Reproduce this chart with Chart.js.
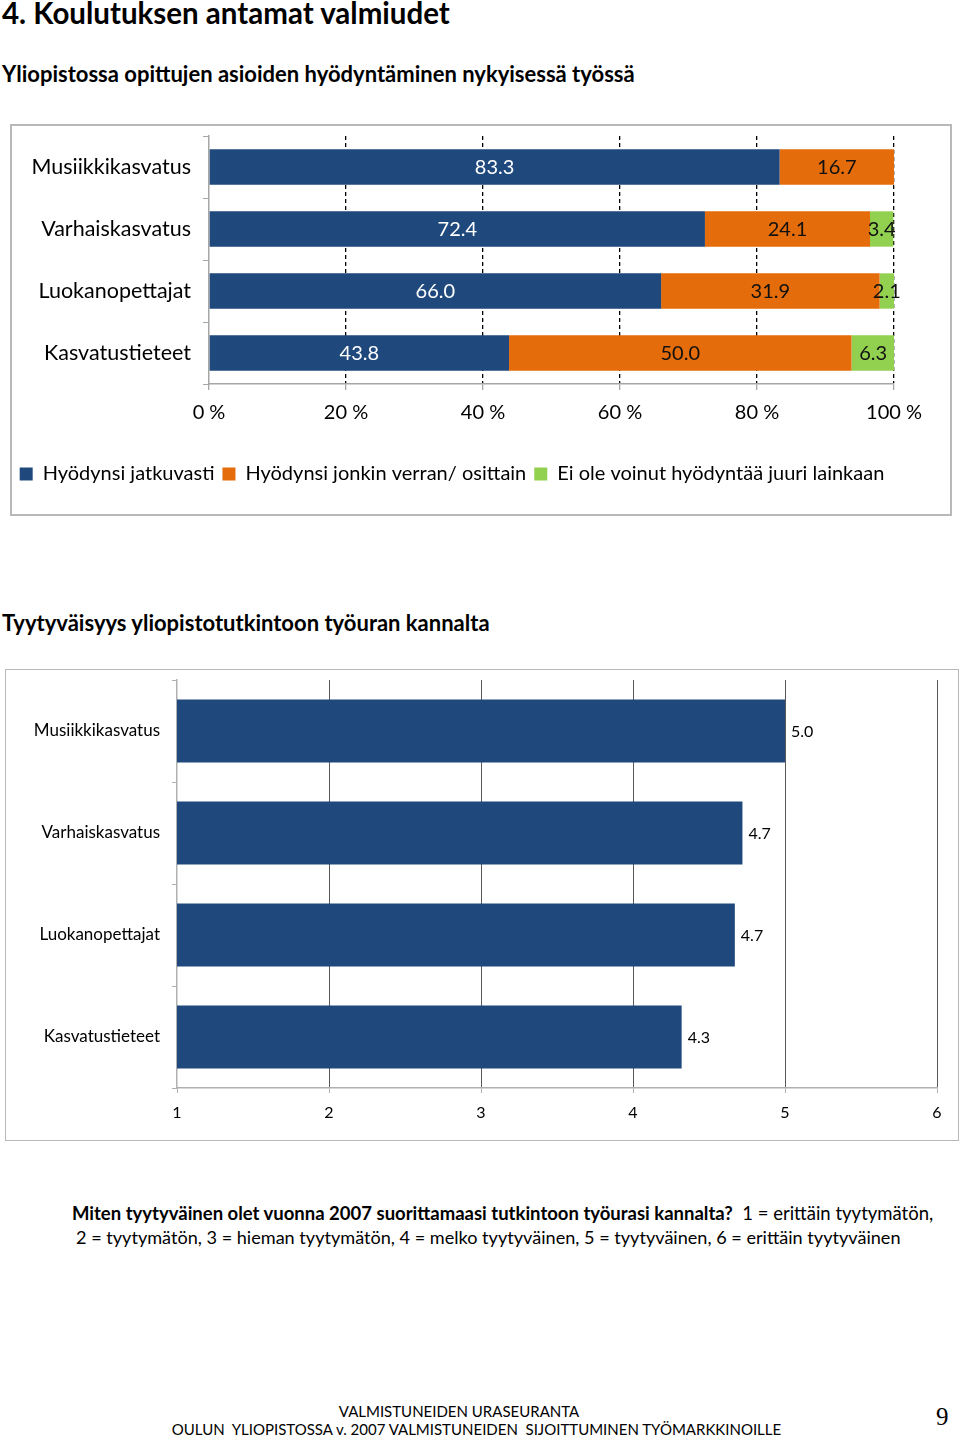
<!DOCTYPE html>
<html lang="fi">
<head>
<meta charset="UTF-8">
<title>Koulutuksen antamat valmiudet</title>
<script src="https://cdn.jsdelivr.net/npm/chart.js"></script>
<style>
    body {
        margin: 0;
        width: 960px;
        height: 1440px;
        position: relative;
        background: #fff;
        font-family: Lato, "Open Sans", sans-serif;
        color: #000;
    }
    .txt { position: absolute; white-space: nowrap; }
    .frame { position: absolute; border: 2px solid #b8b8b8; box-sizing: border-box; }
    canvas { position: absolute; }
</style>
</head>
<body>

<div class="txt" style="left:2px; top:-4px; font-size:29.5px; line-height:34px; font-weight:bold;">4. Koulutuksen antamat valmiudet</div>
<div class="txt" style="left:2px; top:61px; font-size:22px; line-height:26px; font-weight:bold;">Yliopistossa opittujen asioiden hyödyntäminen nykyisessä työssä</div>

<div class="frame" style="left:10px; top:124px; width:942px; height:392px;"></div>
<canvas id="useChart" width="941" height="391" style="left:10px; top:124px;"></canvas>

<div class="txt" style="left:2px; top:610px; font-size:22px; line-height:26px; font-weight:bold;">Tyytyväisyys yliopistotutkintoon työuran kannalta</div>

<div class="frame" style="left:5px; top:669px; width:954px; height:472px; border-width:1.5px;"></div>
<canvas id="satChart" width="953" height="471" style="left:5px; top:669px;"></canvas>

<div class="txt" style="left:72px; top:1201px; font-size:18.5px; line-height:24px;"><b>Miten tyytyväinen olet vuonna 2007 suorittamaasi tutkintoon työurasi kannalta?</b>&nbsp; 1 = erittäin tyytymätön,</div>
<div class="txt" style="left:76px; top:1225px; font-size:18.1px; line-height:24px;">2 = tyytymätön, 3 = hieman tyytymätön, 4 = melko tyytyväinen, 5 = tyytyväinen, 6 = erittäin tyytyväinen</div>

<div class="txt" style="left:0; width:918px; text-align:center; top:1402px; font-size:15px; line-height:18px; font-family:'Liberation Sans Narrow', Lato, sans-serif;">VALMISTUNEIDEN URASEURANTA</div>
<div class="txt" style="left:0; width:953px; text-align:center; top:1420px; font-size:15px; line-height:18px; font-family:'Liberation Sans Narrow', Lato, sans-serif;">OULUN&nbsp; YLIOPISTOSSA v. 2007 VALMISTUNEIDEN&nbsp; SIJOITTUMINEN TYÖMARKKINOILLE</div>
<div class="txt" style="left:936px; top:1402px; font-size:25px; line-height:30px; font-family:'Liberation Serif', serif;">9</div>

<script>
    // Categories (same order in both charts)
    const categories = ['Musiikkikasvatus', 'Varhaiskasvatus', 'Luokanopettajat', 'Kasvatustieteet'];

    // Chart 1: share of respondents (%)
    const seriesNames = ['Hyödynsi jatkuvasti', 'Hyödynsi jonkin verran/ osittain', 'Ei ole voinut hyödyntää juuri lainkaan'];
    const jatkuvasti = [83.3, 72.4, 66.0, 43.8];
    const osittain = [16.7, 24.1, 31.9, 50.0];
    const eiLainkaan = [0, 3.4, 2.1, 6.3];
    const percentTicks = [0, 20, 40, 60, 80, 100];

    // Chart 2: mean satisfaction on a 1-6 scale
    const satisfaction = [5.0, 4.72, 4.67, 4.32];
    const scaleTicks = [1, 2, 3, 4, 5, 6];

    const colors = ['#1f497d', '#e46c0a', '#92d050'];
    const labelColors = ['#ffffff', '#111111', '#111111'];

    // simple value labels drawn on/next to the bars
    const barLabels = {
        id: 'barLabels',
        afterDatasetsDraw(chart, args, opts) {
            const ctx = chart.ctx;
            ctx.save();
            ctx.font = opts.font;
            ctx.textBaseline = 'middle';
            chart.data.datasets.forEach((ds, i) => {
                const meta = chart.getDatasetMeta(i);
                meta.data.forEach((bar, j) => {
                    const v = ds.data[j];
                    if (!v) return;
                    const txt = v.toFixed(1);
                    ctx.fillStyle = opts.colors[i];
                    if (opts.inside) {
                        ctx.textAlign = 'center';
                        ctx.fillText(txt, (bar.x + bar.base) / 2, bar.y + 1);
                    } else {
                        ctx.textAlign = 'left';
                        ctx.fillText(txt, bar.x + 6, bar.y + 1);
                    }
                });
            });
            ctx.restore();
        }
    };

    // category axis: fixed width, no extra label padding above/below
    const fixCatAxis = w => s => {
        s.width = w;
        s.paddingTop = 0;
        s.paddingBottom = 0;
    };

    const stacks = [jatkuvasti, osittain, eiLainkaan];

    new Chart(document.getElementById('useChart'), {
        type: 'bar',
        data: {
            labels: categories,
            datasets: stacks.map((d, i) => ({
                label: seriesNames[i],
                data: d,
                backgroundColor: colors[i],
                borderWidth: 0,
                categoryPercentage: 1,
                barPercentage: 0.57
            }))
        },
        options: {
            indexAxis: 'y',
            responsive: false,
            animation: false,
            layout: { padding: { left: 0, top: 12, right: 57, bottom: 21 } },
            scales: {
                x: {
                    stacked: true,
                    min: 0,
                    max: 100,
                    afterBuildTicks: s => { s.ticks = percentTicks.map(v => ({ value: v })); },
                    afterFit: s => { s.height = 72; },
                    grid: {
                        color: ctx => ctx.index === 0 ? 'rgba(0,0,0,0)' : '#000',
                        lineWidth: 1.3,
                        tickColor: '#a6a6a6',
                        tickLength: 6,
                        tickBorderDash: []
                    },
                    border: { color: '#a6a6a6', width: 1.5, dash: [4, 3] },
                    ticks: {
                        color: '#000',
                        padding: 11,
                        font: { family: 'Lato', size: 20 },
                        callback: v => v + ' %'
                    }
                },
                y: {
                    stacked: true,
                    afterFit: fixCatAxis(199),
                    grid: { drawOnChartArea: false, color: '#a6a6a6', tickLength: 6 },
                    border: { color: '#a6a6a6', width: 1.5 },
                    ticks: { color: '#000', padding: 12, font: { family: 'Lato', size: 21.5 } }
                }
            },
            plugins: {
                legend: {
                    position: 'bottom',
                    labels: {
                        color: '#000',
                        boxWidth: 13,
                        boxHeight: 13,
                        padding: 8,
                        font: { family: 'Lato', size: 20 }
                    }
                },
                tooltip: { enabled: false },
                barLabels: { inside: true, font: '20px Lato', colors: labelColors }
            }
        },
        plugins: [barLabels]
    });

    new Chart(document.getElementById('satChart'), {
        type: 'bar',
        data: {
            labels: categories,
            datasets: [{
                label: 'Tyytyväisyys',
                data: satisfaction,
                backgroundColor: colors[0],
                borderWidth: 0,
                categoryPercentage: 1,
                barPercentage: 0.62
            }]
        },
        options: {
            indexAxis: 'y',
            responsive: false,
            animation: false,
            layout: { padding: { left: 0, top: 11, right: 21, bottom: 0 } },
            scales: {
                x: {
                    min: 1,
                    max: 6,
                    afterBuildTicks: s => { s.ticks = scaleTicks.map(v => ({ value: v })); },
                    afterFit: s => { s.height = 52; },
                    grid: {
                        color: ctx => ctx.index === 0 ? 'rgba(0,0,0,0)' : '#595959',
                        lineWidth: 1,
                        tickColor: '#b0b0b0',
                        tickLength: 5
                    },
                    border: { color: '#b0b0b0', width: 1.5 },
                    ticks: { color: '#000', padding: 10, font: { family: 'Lato', size: 16 } }
                },
                y: {
                    afterFit: fixCatAxis(172),
                    grid: { drawOnChartArea: false, color: '#b0b0b0', tickLength: 5 },
                    border: { color: '#b0b0b0', width: 1.5 },
                    ticks: { color: '#000', padding: 12, font: { family: 'Lato', size: 17 } }
                }
            },
            plugins: {
                legend: { display: false },
                tooltip: { enabled: false },
                barLabels: { inside: false, font: '16px Lato', colors: ['#000'] }
            }
        },
        plugins: [barLabels]
    });
</script>
</body>
</html>
